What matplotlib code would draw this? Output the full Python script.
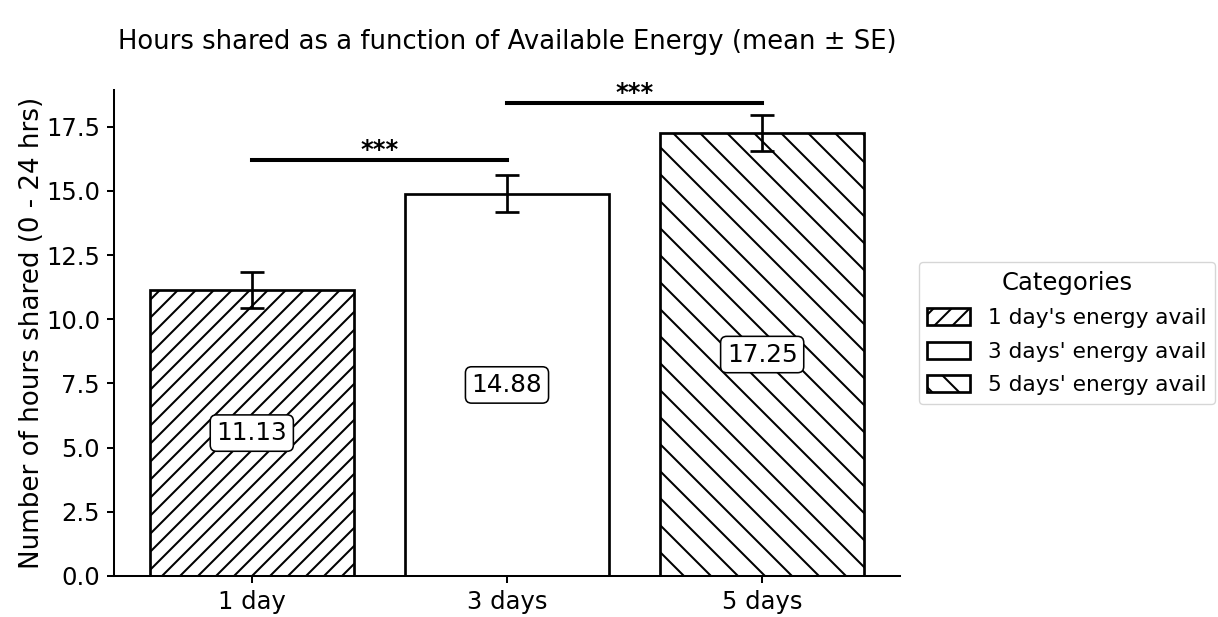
import matplotlib
matplotlib.use("Agg")
import matplotlib.pyplot as plt

# data
categories = ["1 day", "3 days", "5 days"]
means = [11.13, 14.88, 17.25]
ses = [0.70, 0.72, 0.70]
legend_labels = ["1 day's energy avail", "3 days' energy avail", "5 days' energy avail"]
hatches = ["//////", "", "\\\\\\\\"]
# significance brackets: (left index, right index, height)
sig_pairs = [(0, 1, 16.22), (1, 2, 18.44)]
sig_text = "***"

# high dpi so the hatch spacing comes out like the reference
DPI = 324
fig = plt.figure(figsize=(1218 / DPI, 617 / DPI), dpi=DPI)
plt.rcParams["hatch.linewidth"] = 0.45
ax = fig.add_axes([0.0936, 0.0665, 0.6453, 0.7877])

x = list(range(len(categories)))
bars = ax.bar(x, means, width=0.8, color="white", edgecolor="black",
              linewidth=0.6)
for b, h, lab in zip(bars, hatches, legend_labels):
    b.set_hatch(h)
    b.set_label(lab)

ax.errorbar(x, means, yerr=ses, fmt="none", ecolor="black",
            elinewidth=0.6, capsize=2.6, capthick=0.6)

# value labels in the middle of each bar
for xi, m in zip(x, means):
    ax.text(xi, m / 2, f"{m:.2f}", ha="center", va="center", fontsize=5.5,
            bbox=dict(boxstyle="round,pad=0.25", fc="white", ec="black", lw=0.35))

# significance lines
for i, j, h in sig_pairs:
    ax.plot([x[i], x[j]], [h, h], color="black", lw=0.9)
    ax.text((x[i] + x[j]) / 2, h - 0.1, sig_text, ha="center", va="bottom",
            fontsize=5.4, fontweight="bold")

ax.set_xticks(x)
ax.set_xticklabels(categories)
ax.set_ylim(0, 18.93)
ax.set_xlim(-0.54, 2.54)
ax.set_ylabel("Number of hours shared (0 - 24 hrs)", fontsize=5.8, labelpad=0.2)
ax.tick_params(labelsize=5.4, length=1.6, width=0.45, pad=1.5)
for s in ["top", "right"]:
    ax.spines[s].set_visible(False)
for s in ["left", "bottom"]:
    ax.spines[s].set_linewidth(0.45)

ax.set_title("Hours shared as a function of Available Energy (mean ± SE)",
             fontsize=5.75, pad=9)

leg = ax.legend(handles=list(bars), title="Categories", loc="center left",
                bbox_to_anchor=(1.01, 0.5), fontsize=4.8, title_fontsize=5.4,
                handleheight=0.85, labelspacing=0.62, frameon=True)
leg.get_frame().set_linewidth(0.3)

fig.savefig("out.png", dpi=DPI)
